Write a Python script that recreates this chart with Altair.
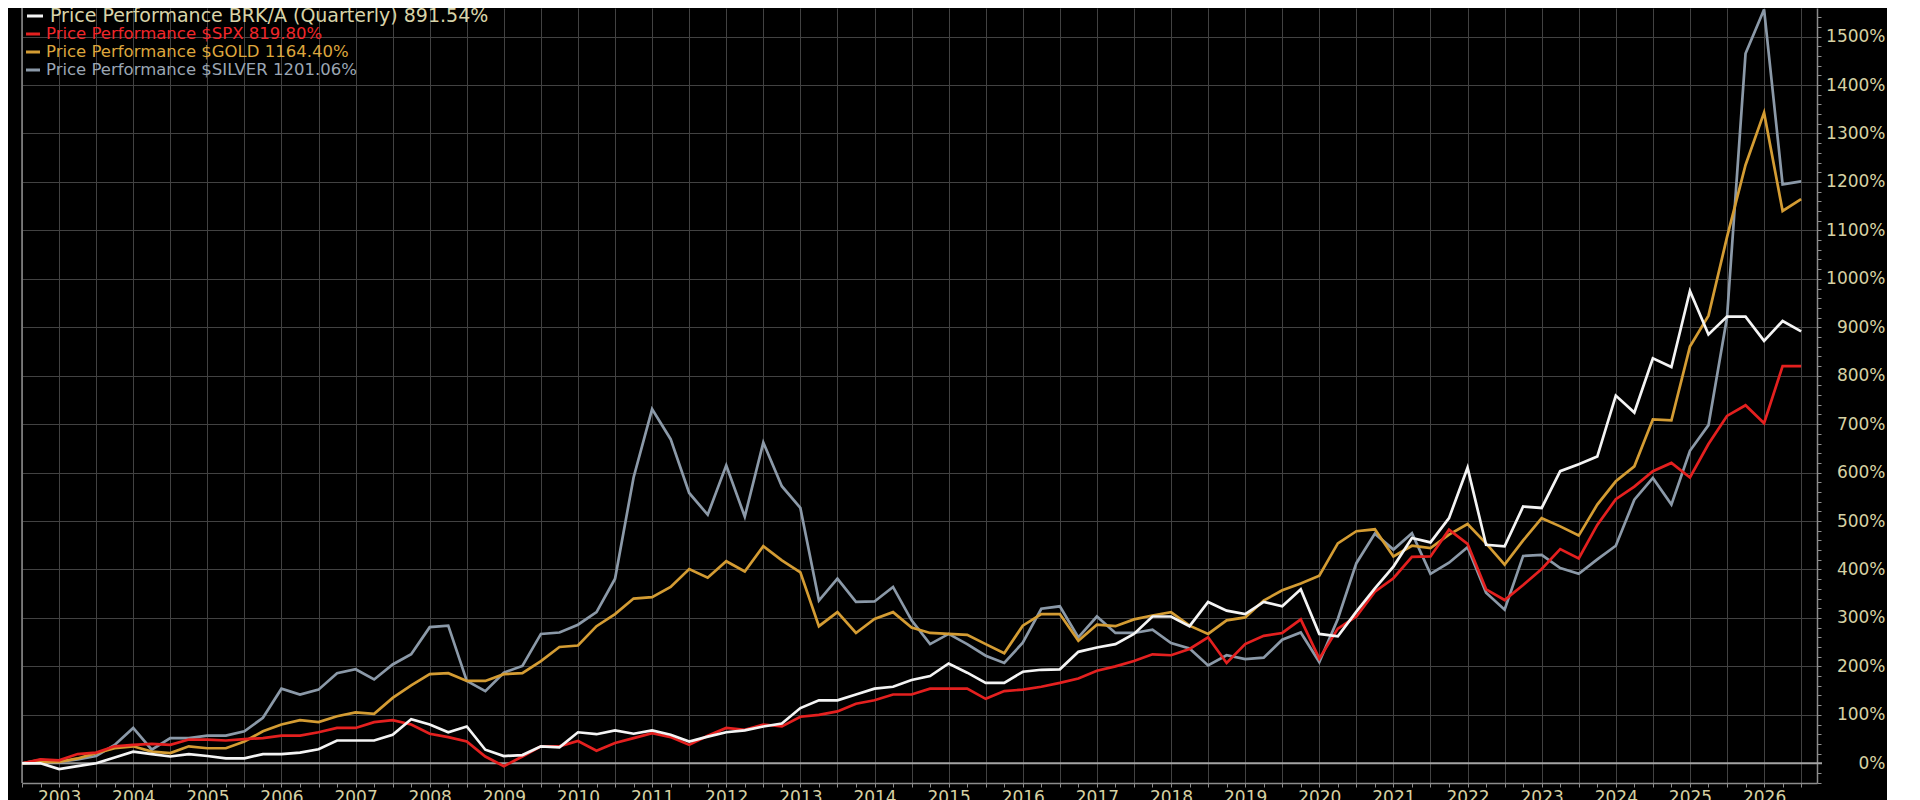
import altair as alt
import pandas as pd

# ---------------- data: quarterly price performance (%) from Q3 2002 ----------------
first_quarter = 2002.5

brk_a = [0, 0, -12, -6, 0, 12, 24, 19, 14, 19, 15, 10, 10, 19, 19, 22, 29, 47, 47, 47, 59, 91, 80, 64,
         76, 28, 15, 17, 35, 33, 64, 60, 68, 61, 68, 59, 45, 55, 64, 68, 76, 82, 114, 130, 130, 142, 154, 158,
         172, 180, 206, 187, 166, 166, 189, 193, 194, 230, 239, 246, 267, 303, 303, 283, 333, 315, 308, 333, 324, 359, 267, 262,
         313, 361, 406, 465, 456, 506, 610, 451, 448, 530, 527, 603, 617, 633, 759, 724, 836, 818, 975, 885, 922, 922, 872, 913, 891.54]

spx = [0, 8, 6, 19, 22, 35, 38, 40, 38, 49, 49, 47, 50, 52, 57, 57, 64, 73, 73, 85, 89, 80, 61, 54,
       45, 14, -6, 14, 35, 35, 46, 26, 42, 52, 62, 54, 38, 57, 73, 69, 80, 76, 96, 100, 107, 123, 130, 142,
       142, 154, 154, 154, 133, 149, 152, 158, 166, 175, 191, 200, 211, 225, 223, 236, 260, 207, 246, 263, 269, 297, 216, 278,
       303, 354, 382, 426, 427, 482, 453, 359, 337, 368, 401, 442, 423, 492, 545, 571, 603, 620, 590, 659, 717, 739, 702, 819.8, 819.8]

gold = [0, 3, 3, 10, 21, 31, 35, 24, 21, 35, 31, 31, 45, 66, 80, 89, 85, 97, 105, 102, 135, 161, 184, 186,
        170, 170, 184, 186, 211, 240, 243, 283, 308, 340, 343, 364, 401, 383, 417, 396, 448, 419, 394, 283, 312, 269, 298, 312,
        280, 269, 267, 265, 246, 227, 284, 308, 308, 253, 286, 283, 297, 305, 312, 284, 267, 295, 301, 336, 357, 371, 387, 454,
        479, 483, 427, 449, 444, 472, 494, 454, 410, 460, 506, 489, 470, 534, 582, 613, 710, 708, 860, 924, 1086, 1235, 1343, 1140, 1164.4]

silver = [0, 7, 3, 8, 15, 38, 73, 28, 52, 52, 57, 57, 66, 94, 154, 142, 152, 186, 194, 173, 204, 225, 281, 284,
          170, 149, 187, 201, 267, 270, 286, 312, 381, 590, 731, 669, 558, 513, 615, 509, 662, 572, 527, 336, 381, 333, 334, 364,
          295, 246, 267, 246, 222, 207, 249, 319, 324, 260, 303, 269, 269, 276, 248, 237, 202, 223, 215, 218, 255, 270, 209, 298,
          413, 474, 441, 475, 391, 414, 446, 352, 317, 428, 430, 403, 391, 421, 449, 544, 589, 534, 645, 698, 920, 1465, 1556, 1195, 1201.06]

quarters = [first_quarter + 0.25 * k for k in range(len(brk_a))]

series_names = ["BRK/A", "$SPX", "$GOLD", "$SILVER"]
series_values = [brk_a, spx, gold, silver]
line_colors = ["#f4f4f4", "#e4201f", "#d49c33", "#8b99a8"]
legend_labels = [
    "Price Performance BRK/A (Quarterly) 891.54%",
    "Price Performance $SPX 819.80%",
    "Price Performance $GOLD 1164.40%",
    "Price Performance $SILVER 1201.06%",
]
legend_text_colors = ["#d9d4a9", "#f0262a", "#dda63d", "#9ba6b4"]
y_tick_values = list(range(-40, 1541, 20))

# ---------------- style ----------------
FONT = "DejaVu Sans"
LABEL = "#d6d1a3"
FRAME = "#8c8c8c"
GRID = "#424242"
PW, PH = 1795, 775

xs = alt.Scale(domain=[2002.5, 2026.714], nice=False, zero=False)
ys = alt.Scale(domain=[-40.7, 1559], nice=False, zero=False)

x_axis = alt.Axis(
    values=quarters, title=None,
    labelExpr="datum.value % 1 === 0 ? format(datum.value, 'd') : ''",
    labelOverlap=False, labelFlush=False,
    labelColor=LABEL, labelFont=FONT, labelFontSize=17, labelPadding=2,
    tickSize=4, tickColor=FRAME, tickWidth=1,
    domainColor=FRAME, domainWidth=1.5,
    gridColor=GRID, gridWidth=1,
    gridOpacity={"condition": {"test": "datum.value % 0.5 === 0", "value": 1}, "value": 0},
)
y_axis = alt.Axis(
    orient="right", values=y_tick_values, title=None,
    labelExpr="datum.value % 100 === 0 && datum.value >= 0 ? datum.value + '%' : ''",
    labelOverlap=False, labelFlush=False, labelAlign="right", labelBaseline="middle",
    labelColor=LABEL, labelFont=FONT, labelFontSize=17, labelPadding=64,
    tickSize=4, tickColor=FRAME, tickWidth=1,
    domainColor=FRAME, domainWidth=1.5,
    gridColor=GRID, gridWidth=1,
    gridOpacity={"condition": {"test": "datum.value % 100 === 0", "value": 1}, "value": 0},
)

X = alt.X("t:Q", scale=xs, axis=x_axis)
Y = alt.Y("v:Q", scale=ys, axis=y_axis)

layers = []

# left frame and bright zero line
layers.append(
    alt.Chart(pd.DataFrame({"v": [0]})).mark_rule(color=FRAME, strokeWidth=1.5)
    .encode(x=alt.value(0), y=alt.value(0), y2=alt.value(PH))
)
layers.append(
    alt.Chart(pd.DataFrame({"v": [0]})).mark_rule(color="#a4a4a4", strokeWidth=2)
    .encode(y=Y, x=alt.value(0), x2=alt.value(PW + 5))
)

# series lines (silver at the back, BRK/A on top)
for k in [3, 2, 1, 0]:
    df = pd.DataFrame({"t": quarters, "v": series_values[k], "series": series_names[k]})
    layers.append(
        alt.Chart(df).mark_line(color=line_colors[k], strokeWidth=2.7, clip=True)
        .encode(x=X, y=Y)
    )

# legend rows
row_y = [8, 26, 44, 62]
text_x = [28, 24, 24, 24]
mark_x = [(5, 21), (4, 18), (4, 18), (4, 18)]
font_sizes = [19, 16.5, 16.5, 16.5]
for k in range(4):
    dfl = pd.DataFrame({"label": [legend_labels[k]]})
    layers.append(
        alt.Chart(dfl).mark_rule(color=line_colors[k], strokeWidth=3)
        .encode(x=alt.value(mark_x[k][0]), x2=alt.value(mark_x[k][1]), y=alt.value(row_y[k]))
    )
    layers.append(
        alt.Chart(dfl).mark_text(align="left", baseline="middle", font=FONT,
                                 fontSize=font_sizes[k], color=legend_text_colors[k])
        .encode(x=alt.value(text_x[k]), y=alt.value(row_y[k]), text="label:N")
    )

chart = (
    alt.layer(*layers)
    .properties(
        width=PW, height=PH,
        padding={"left": 14, "top": 0, "right": 70, "bottom": 17},
        autosize=alt.AutoSizeParams(type="none"),
        background="#000000",
    )
    .configure_view(strokeWidth=0)
)

chart.save("out.html", embed_options={"renderer": "svg", "actions": False})
